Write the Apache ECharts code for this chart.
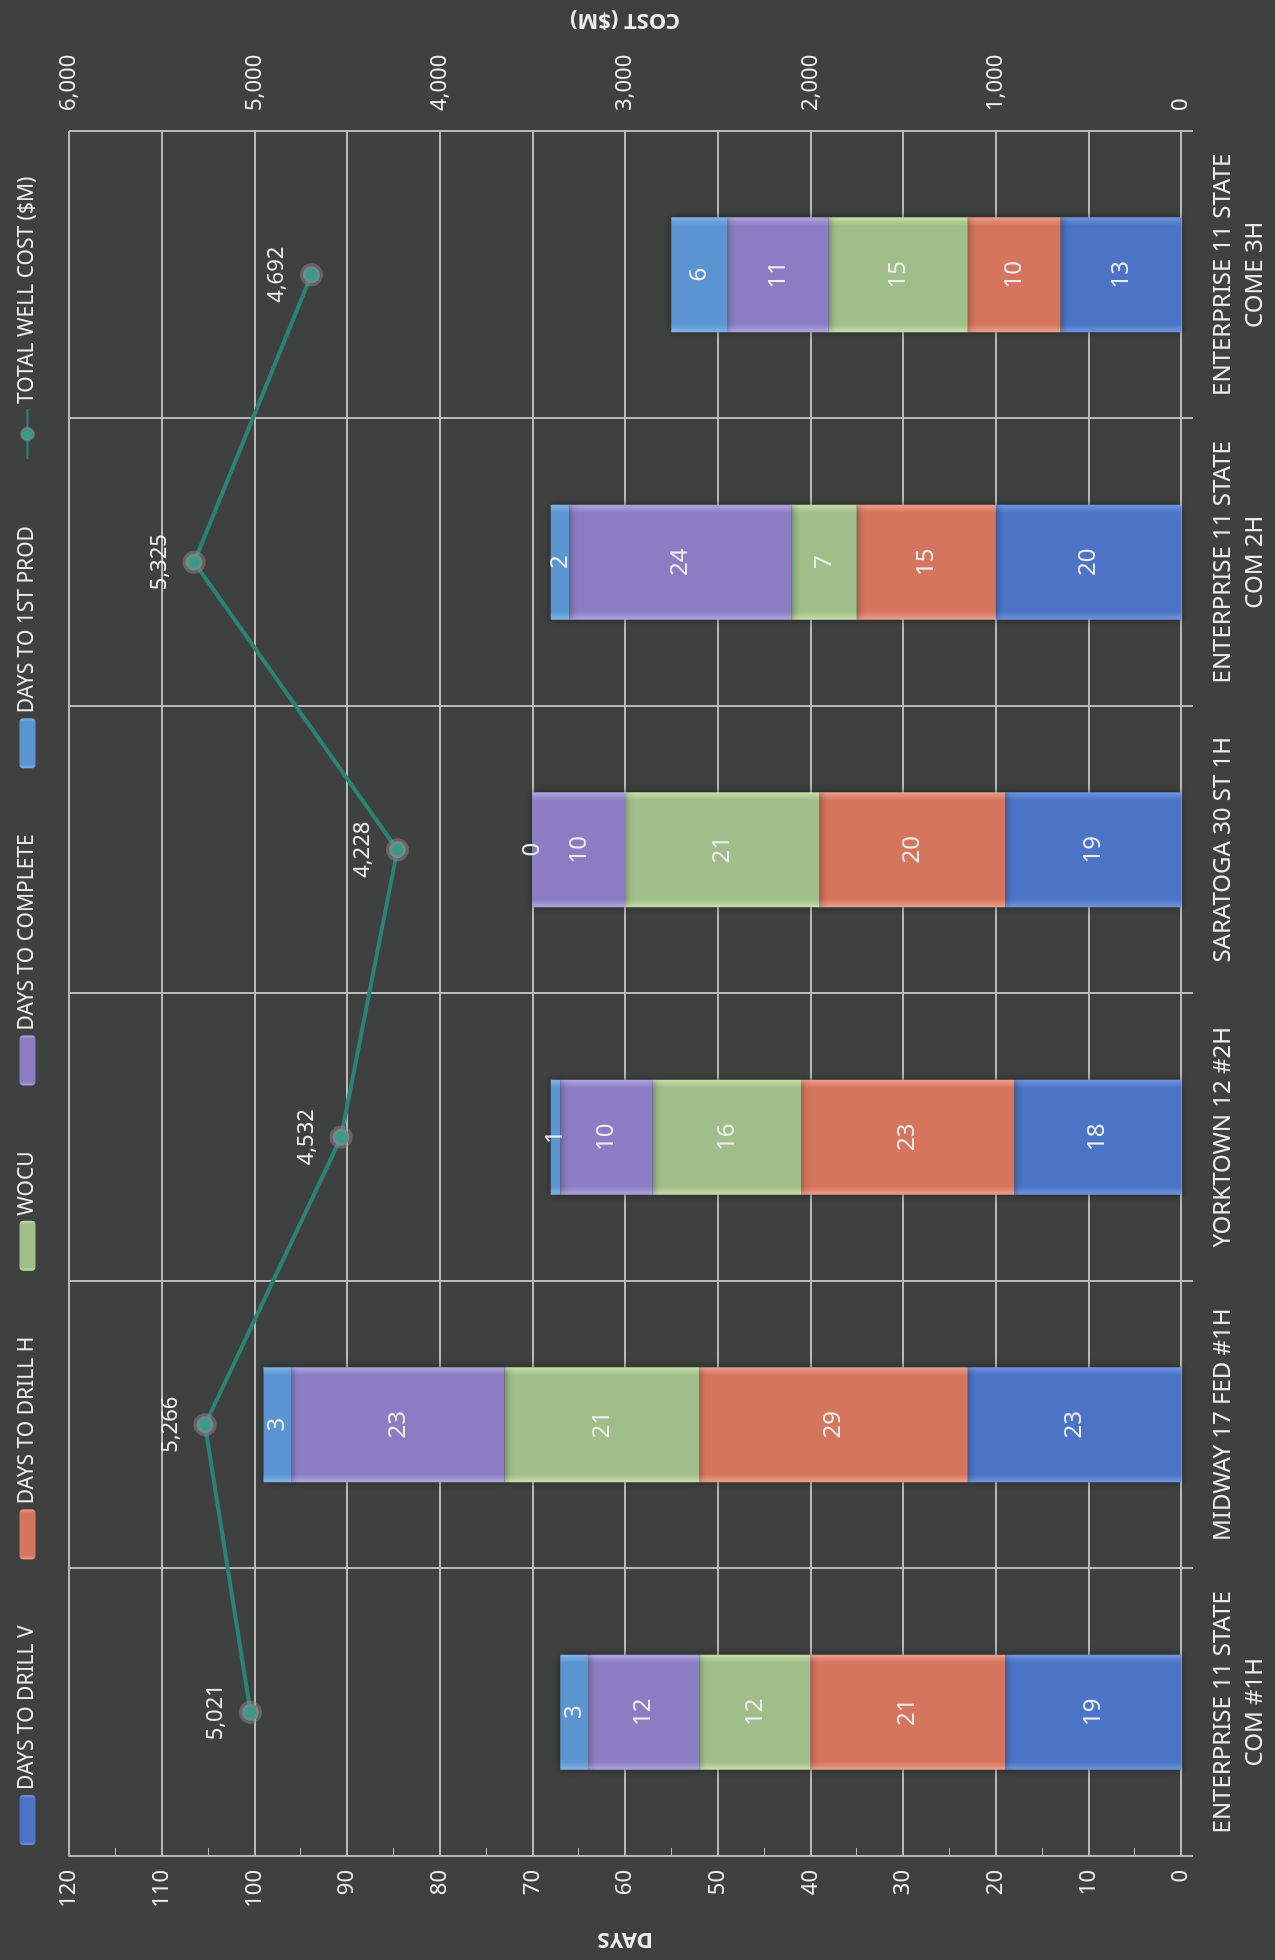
<!DOCTYPE html>
<html>
<head>
<meta charset="utf-8">
<script src="https://cdn.jsdelivr.net/npm/echarts@6/dist/echarts.min.js"></script>
<style>
  html, body { margin: 0; padding: 0; background: #3f4140; overflow: hidden; width: 1275px; height: 1960px; }
  /* the chart is laid out landscape and turned a quarter turn counter-clockwise */
  #chart { position: absolute; left: 0; top: 0; width: 1960px; height: 1275px;
           transform-origin: 0 0; transform: translate(0, 1960px) rotate(-90deg); }
</style>
</head>
<body>
<div id="chart"></div>
<script>
const categories = [
  'ENTERPRISE 11 STATE\nCOM #1H',
  'MIDWAY 17 FED #1H',
  'YORKTOWN 12 #2H',
  'SARATOGA 30 ST 1H',
  'ENTERPRISE 11 STATE\nCOM 2H',
  'ENTERPRISE 11 STATE\nCOME 3H'
]
const drillV = [19, 23, 18, 19, 20, 13]
const drillH = [21, 29, 23, 20, 15, 10]
const wocu = [12, 21, 16, 21, 7, 15]
const complete = [12, 23, 10, 10, 24, 11]
const firstProd = [3, 3, 1, 0, 2, 6]
const wellCost = [5021, 5266, 4532, 4228, 5325, 4692]

const FONT = 'Noto Sans'
const TXT = '#ececec'
const GRID = '#b9b9b9'

function fill(base, edge) {
  return new echarts.graphic.LinearGradient(0, 0, 1, 0, [
    { offset: 0, color: edge },
    { offset: 0.07, color: base },
    { offset: 0.93, color: base },
    { offset: 1, color: edge }
  ])
}

function barSeries(name, data, base, edge) {
  return {
    name: name,
    type: 'bar',
    stack: 'days',
    barWidth: '40%',
    data: data,
    itemStyle: {
      color: fill(base, edge),
      shadowColor: 'rgba(0,0,0,0.45)',
      shadowBlur: 8
    },
    label: {
      show: true,
      position: 'inside',
      color: TXT,
      fontFamily: FONT,
      fontSize: 24
    }
  }
}

let myChart = echarts.init(document.getElementById('chart'))
myChart.setOption({
  animation: false,
  backgroundColor: '#3f4140',
  textStyle: { fontFamily: FONT },
  legend: {
    left: 110,
    top: 12,
    itemWidth: 50,
    itemHeight: 16,
    itemGap: 66,
    textStyle: { color: TXT, fontSize: 21, fontFamily: FONT },
    data: ['DAYS TO DRILL V', 'DAYS TO DRILL H', 'WOCU', 'DAYS TO COMPLETE', 'DAYS TO 1ST PROD', 'TOTAL WELL COST ($M)']
  },
  grid: { left: 104, right: 131, top: 69, bottom: 94 },
  xAxis: {
    type: 'category',
    data: categories,
    axisLine: { lineStyle: { color: GRID, width: 2 } },
    axisTick: { show: true, length: 12, lineStyle: { color: GRID, width: 2 } },
    splitLine: { show: true, interval: 0, lineStyle: { color: GRID, width: 2 } },
    axisLabel: { color: TXT, fontSize: 24, fontFamily: FONT, lineHeight: 32, margin: 26, interval: 0 }
  },
  yAxis: [
    {
      type: 'value',
      min: 0,
      max: 120,
      interval: 10,
      name: 'DAYS',
      nameLocation: 'middle',
      nameRotate: 90,
      nameGap: 72,
      nameTextStyle: { color: TXT, fontSize: 22, fontWeight: 'bold', fontFamily: FONT },
      axisLine: { show: true, lineStyle: { color: GRID, width: 2 } },
      axisTick: { show: true, inside: true, length: 8, lineStyle: { color: GRID } },
      minorTick: { show: true, splitNumber: 2, length: 8, lineStyle: { color: GRID } },
      splitLine: { show: true, lineStyle: { color: GRID, width: 2 } },
      axisLabel: { color: TXT, fontSize: 22, fontFamily: FONT, margin: 14 }
    },
    {
      type: 'value',
      min: 0,
      max: 6000,
      interval: 1000,
      name: 'COST ($M)',
      nameLocation: 'middle',
      nameRotate: 90,
      nameGap: 100,
      nameTextStyle: { color: TXT, fontSize: 22, fontWeight: 'bold', fontFamily: FONT },
      axisLine: { show: false },
      axisTick: { show: false },
      splitLine: { show: false },
      axisLabel: {
        color: TXT, fontSize: 22, fontFamily: FONT, margin: 20,
        formatter: (v) => v.toLocaleString('en-US')
      }
    }
  ],
  series: [
    barSeries('DAYS TO DRILL V', drillV, '#4b74c6', '#6f95e0'),
    barSeries('DAYS TO DRILL H', drillH, '#d6755d', '#eba08a'),
    barSeries('WOCU', wocu, '#a0be89', '#c8dfa8'),
    barSeries('DAYS TO COMPLETE', complete, '#8a7dc3', '#b1a6e0'),
    barSeries('DAYS TO 1ST PROD', firstProd, '#5a95d2', '#80b4e6'),
    {
      name: 'TOTAL WELL COST ($M)',
      type: 'line',
      yAxisIndex: 1,
      data: wellCost,
      z: 5,
      symbol: 'circle',
      symbolSize: 17,
      lineStyle: { color: '#2b8372', width: 4 },
      itemStyle: { color: '#3a9a88', borderColor: 'rgba(150,130,140,0.5)', borderWidth: 6 },
      label: {
        show: true,
        position: 'top',
        distance: 12,
        color: TXT,
        fontSize: 22,
        fontFamily: FONT,
        formatter: (p) => p.value.toLocaleString('en-US')
      }
    }
  ]
})
</script>
</body>
</html>
